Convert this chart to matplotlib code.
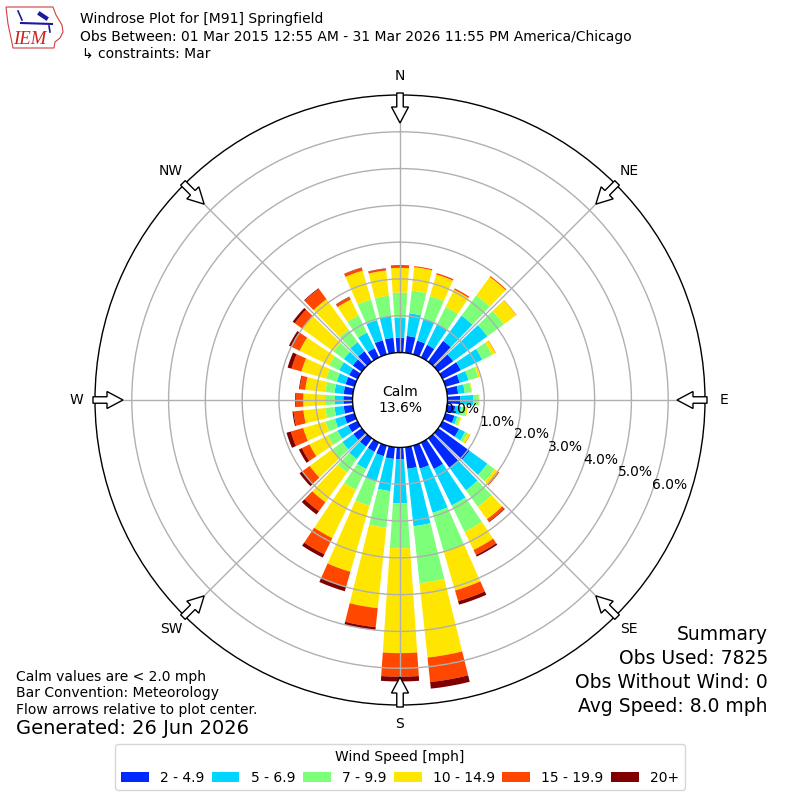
import numpy as np
import matplotlib
matplotlib.use("Agg")
import matplotlib.pyplot as plt
from matplotlib.patches import FancyArrow, Polygon
from matplotlib.lines import Line2D

# wind direction bins (degrees, meteorological "from")
directions = np.arange(0, 360, 10)
speed_labels = ["2 - 4.9", "5 - 6.9", "7 - 9.9", "10 - 14.9", "15 - 19.9", "20+"]

# percent of all observations per direction, one list per speed bin
pct_2_5 = [0.40, 0.46, 0.39, 0.38, 0.70, 0.50, 0.55, 0.40, 0.30, 0.35, 0.22, 0.25,
           0.50, 1.05, 1.00, 0.80, 0.65, 0.59, 0.32, 0.32, 0.30, 0.28, 0.28, 0.28,
           0.28, 0.28, 0.25, 0.25, 0.25, 0.25, 0.25, 0.30, 0.35, 0.28, 0.40, 0.41]
pct_5_7 = [0.55, 0.62, 0.63, 0.63, 0.85, 1.15, 0.65, 0.25, 0.18, 0.35, 0.16, 0.08,
           0.18, 0.60, 0.75, 1.10, 1.25, 1.57, 1.20, 0.88, 0.72, 0.52, 0.42, 0.37,
           0.32, 0.27, 0.25, 0.23, 0.25, 0.25, 0.30, 0.30, 0.31, 0.47, 0.57, 0.60]
pct_7_10 = [0.68, 0.62, 0.63, 0.52, 0.68, 0.55, 0.30, 0.27, 0.18, 0.15, 0.14, 0.07,
            0.08, 0.25, 0.55, 0.80, 1.10, 1.56, 1.22, 1.00, 0.68, 0.63, 0.45, 0.35,
            0.30, 0.27, 0.25, 0.27, 0.25, 0.30, 0.30, 0.35, 0.42, 0.52, 0.58, 0.55]
pct_10_15 = [0.67, 0.64, 0.61, 0.52, 0.62, 0.42, 0.10, 0.06, 0.02, 0.02, 0.04, 0.04,
             0.07, 0.12, 0.42, 0.55, 1.10, 2.03, 2.85, 2.20, 1.87, 1.46, 1.00, 0.75,
             0.55, 0.63, 0.60, 0.59, 0.55, 0.70, 0.90, 1.05, 1.02, 0.48, 0.82, 0.69]
pct_15_20 = [0.08, 0.03, 0.04, 0.04, 0.03, 0.01, 0.01, 0.00, 0.00, 0.00, 0.00, 0.00,
             0.01, 0.03, 0.08, 0.15, 0.30, 0.67, 0.64, 0.52, 0.43, 0.49, 0.30, 0.25,
             0.23, 0.35, 0.27, 0.20, 0.15, 0.28, 0.23, 0.25, 0.35, 0.08, 0.08, 0.05]
pct_20_up = [0.00, 0.00, 0.00, 0.00, 0.00, 0.00, 0.00, 0.00, 0.00, 0.00, 0.00, 0.00,
             0.00, 0.00, 0.02, 0.05, 0.10, 0.18, 0.13, 0.08, 0.12, 0.10, 0.11, 0.09,
             0.09, 0.12, 0.03, 0.02, 0.02, 0.11, 0.09, 0.07, 0.02, 0.01, 0.01, 0.01]
calm_pct = 13.6
ring_pcts = [0, 1, 2, 3, 4, 5, 6]
compass = ["N", "NE", "E", "SE", "S", "SW", "W", "NW"]

series = [pct_2_5, pct_5_7, pct_7_10, pct_10_15, pct_15_20, pct_20_up]
colors = plt.cm.jet(np.linspace(0, 1, 7)[1:])

fig = plt.figure(figsize=(8, 8), dpi=100)
ax = fig.add_axes([0.11875, 0.11875, 0.7625, 0.7625], projection="polar")
ax.set_theta_zero_location("N")
ax.set_theta_direction(-1)

theta = np.deg2rad(directions)
bottom = np.zeros(len(directions))
handles = []
for vals, c, lab in zip(series, colors, speed_labels):
    vals = np.array(vals)
    b = ax.bar(theta, vals, width=np.deg2rad(7.8), bottom=bottom, color=c,
               linewidth=0, label=lab)
    handles.append(b)
    bottom = bottom + vals

ax.set_ylim(0, 7)
ax.set_rorigin(-1.29)
ax.set_yticks(ring_pcts[1:])
ax.set_yticklabels([])
ax.set_xticks(np.deg2rad(np.arange(0, 360, 45)))
ax.set_xticklabels([])
ax.grid(color="#b0b0b0", linewidth=1)
for sp in ax.spines.values():
    sp.set_color("black")
    sp.set_linewidth(1)

# radial labels
for r in ring_pcts:
    ax.text(np.deg2rad(110), r, "%.1f%%" % r, ha="left", va="bottom", fontsize=10)

# compass labels
for i, lab in enumerate(compass):
    ax.text(np.deg2rad(i * 45), 7.51, lab, ha="center", va="center", fontsize=10)

# flow arrows on the outer circle
for i in range(8):
    a = np.deg2rad(i * 45)
    r_tail = 307 / 800.
    r_tip = 277 / 800.
    arr = FancyArrow(0.5 + r_tail * np.sin(a), 0.5 + r_tail * np.cos(a),
                     -(r_tail - r_tip) * np.sin(a), -(r_tail - r_tip) * np.cos(a),
                     width=6.5 / 800, head_width=17 / 800., head_length=16 / 800.,
                     length_includes_head=True, facecolor="white",
                     edgecolor="black", linewidth=1, transform=fig.transFigure,
                     zorder=5)
    fig.add_artist(arr)

fig.text(0.5, 0.5, "Calm\n%.1f%%" % calm_pct, ha="center", va="center",
         fontsize=10, multialignment="center")

# header
def px(x, y):
    return x / 800., 1 - y / 800.

fig.text(*px(80, 19), "Windrose Plot for [M91] Springfield", fontsize=10, va="center")
fig.text(*px(80, 37), "Obs Between: 01 Mar 2015 12:55 AM - 31 Mar 2026 11:55 PM America/Chicago",
         fontsize=10, va="center")
fig.text(*px(82, 54), "\u21b3 constraints: Mar", fontsize=10, va="center")

# IEM logo (rough)
iowa = [(6, 7), (53, 7), (56, 15), (62, 25), (63, 32), (60, 38), (55, 42),
        (54, 48), (13, 48), (11, 38), (8, 24)]
fig.add_artist(Polygon([px(x, y) for x, y in iowa], closed=True, fill=False,
                       edgecolor="#d04040", linewidth=0.8, transform=fig.transFigure))
xs, ys = zip(px(21, 23), px(52, 24))
fig.add_artist(Line2D(xs, ys, color="#1a1aa0", linewidth=1.5, transform=fig.transFigure))
xs, ys = zip(px(18, 11), px(22, 20))
fig.add_artist(Line2D(xs, ys, color="#1a1aa0", linewidth=1.2, transform=fig.transFigure))
xs, ys = zip(px(40, 14), px(46, 18))
fig.add_artist(Line2D(xs, ys, color="#1a1aa0", linewidth=3, transform=fig.transFigure))
xs, ys = zip(px(49, 26), px(50, 32))
fig.add_artist(Line2D(xs, ys, color="#1a1aa0", linewidth=1.2, transform=fig.transFigure))
fig.text(*px(30, 39), "IEM", fontsize=13.5, color="#d02020", style="italic",
         family="Liberation Serif", ha="center", va="center")

# footer notes
fig.text(*px(16, 677), "Calm values are < 2.0 mph", fontsize=10, va="center")
fig.text(*px(16, 693), "Bar Convention: Meteorology", fontsize=10, va="center")
fig.text(*px(16, 710), "Flow arrows relative to plot center.", fontsize=10, va="center")
fig.text(*px(16, 729), "Generated: 26 Jun 2026", fontsize=14, va="center")

summary = ["Summary", "Obs Used: 7825", "Obs Without Wind: 0", "Avg Speed: 8.0 mph"]
for i, s in enumerate(summary):
    fig.text(*px(768, 635 + i * 23.7), s, fontsize=13.5, ha="right", va="center")

fig.legend(handles, speed_labels, ncol=6, loc="lower center",
           bbox_to_anchor=(0.5, 3 / 800.), title="Wind Speed [mph]",
           fontsize=10, title_fontsize=10, columnspacing=0.55)

fig.savefig("out.png", dpi=100)
